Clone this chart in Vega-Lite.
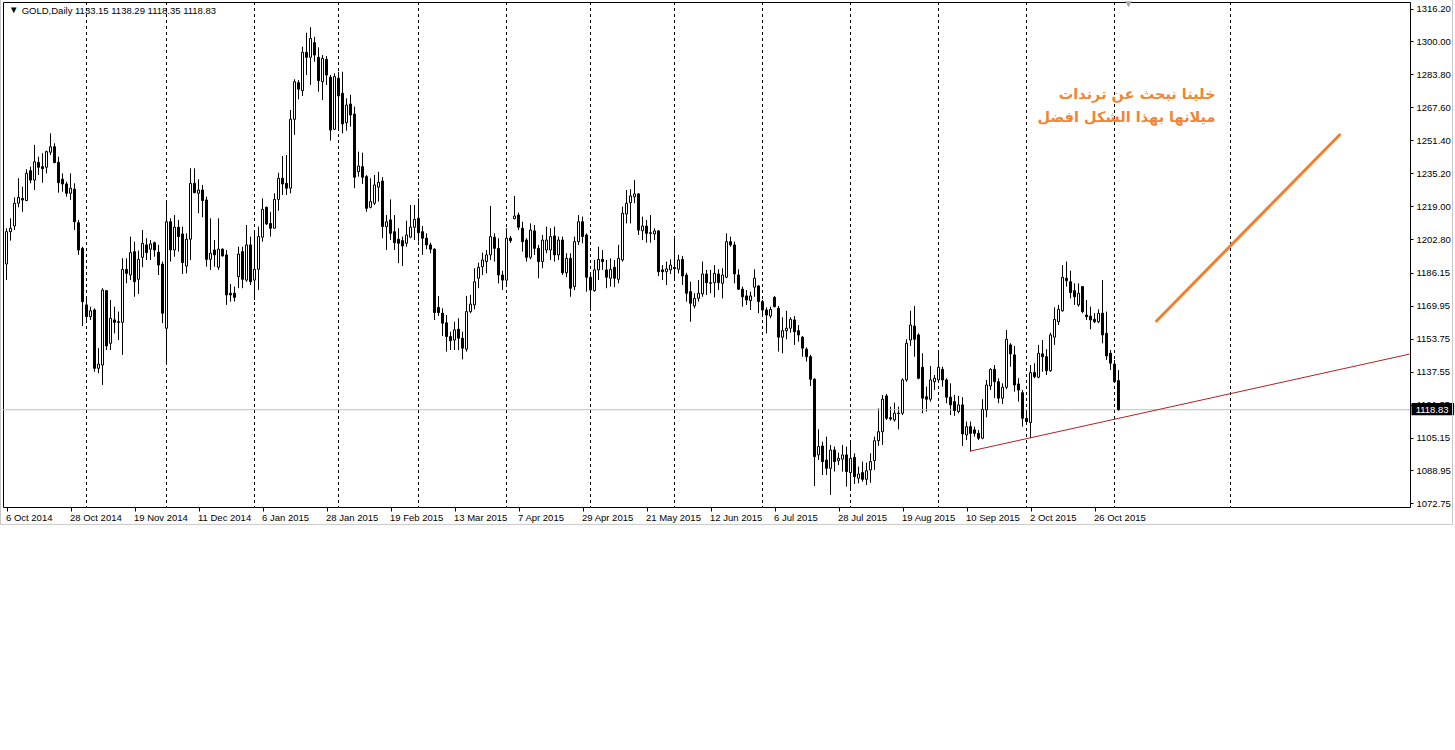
{
"$schema":"https://vega.github.io/schema/vega-lite/v6.json",
"width":1407,"height":505,
"autosize":{"type":"none"},
"padding":{"left":3,"top":2,"right":45,"bottom":243},
"background":"white",
"config":{"view":{"stroke":"black","strokeWidth":1},"scale":{"continuousPadding":0},
 "axis":{"labelFont":"Liberation Sans","labelFontSize":9.5,"labelColor":"black","tickColor":"black","tickWidth":1,"domain":false,"grid":false,"labelOverlap":false,"labelFlush":false,"zindex":0},
 "axisX":{"tickSize":4,"labelPadding":1},
 "axisY":{"tickSize":3,"labelPadding":3}},
"datasets":{
"bars":[
{"i":0,"o":1190.5,"h":1208.1,"l":1182.6,"c":1206.4},
{"i":1,"o":1206.4,"h":1213.0,"l":1202.0,"c":1208.1},
{"i":2,"o":1209.2,"h":1223.3,"l":1207.2,"c":1220.4},
{"i":3,"o":1220.4,"h":1232.7,"l":1218.4,"c":1223.3},
{"i":4,"o":1222.8,"h":1228.5,"l":1216.2,"c":1222.0},
{"i":5,"o":1221.7,"h":1237.1,"l":1221.7,"c":1235.1},
{"i":6,"o":1236.4,"h":1238.4,"l":1230.2,"c":1231.8},
{"i":7,"o":1231.8,"h":1249.1,"l":1226.9,"c":1240.8},
{"i":8,"o":1240.5,"h":1243.3,"l":1234.3,"c":1238.1},
{"i":9,"o":1238.4,"h":1245.0,"l":1230.5,"c":1237.4},
{"i":10,"o":1238.1,"h":1246.3,"l":1235.1,"c":1245.8},
{"i":11,"o":1245.5,"h":1254.8,"l":1244.1,"c":1248.2},
{"i":12,"o":1248.2,"h":1249.9,"l":1240.1,"c":1240.4},
{"i":13,"o":1240.5,"h":1243.3,"l":1225.6,"c":1230.5},
{"i":14,"o":1232.2,"h":1235.1,"l":1226.1,"c":1229.9},
{"i":15,"o":1229.9,"h":1231.0,"l":1223.6,"c":1225.3},
{"i":16,"o":1225.3,"h":1235.1,"l":1222.0,"c":1227.8},
{"i":17,"o":1227.3,"h":1230.2,"l":1207.2,"c":1211.3},
{"i":18,"o":1210.8,"h":1212.2,"l":1195.0,"c":1197.4},
{"i":19,"o":1198.2,"h":1199.0,"l":1160.0,"c":1172.0},
{"i":20,"o":1170.4,"h":1174.4,"l":1163.0,"c":1164.6},
{"i":21,"o":1164.6,"h":1169.5,"l":1163.0,"c":1167.5},
{"i":22,"o":1167.9,"h":1168.7,"l":1137.5,"c":1139.2},
{"i":23,"o":1139.2,"h":1149.1,"l":1136.8,"c":1141.3},
{"i":24,"o":1140.8,"h":1178.6,"l":1131.0,"c":1177.7},
{"i":25,"o":1177.4,"h":1177.7,"l":1148.2,"c":1150.2},
{"i":26,"o":1151.5,"h":1172.8,"l":1148.2,"c":1163.8},
{"i":27,"o":1163.0,"h":1169.5,"l":1156.4,"c":1161.8},
{"i":28,"o":1162.1,"h":1167.1,"l":1153.1,"c":1161.8},
{"i":29,"o":1161.8,"h":1193.3,"l":1145.8,"c":1187.9},
{"i":30,"o":1187.9,"h":1193.3,"l":1181.0,"c":1185.9},
{"i":31,"o":1185.1,"h":1204.0,"l":1182.6,"c":1196.1},
{"i":32,"o":1196.6,"h":1201.5,"l":1174.4,"c":1181.8},
{"i":33,"o":1183.0,"h":1197.1,"l":1175.8,"c":1192.8},
{"i":34,"o":1193.8,"h":1207.2,"l":1188.9,"c":1200.7},
{"i":35,"o":1199.9,"h":1203.2,"l":1192.5,"c":1196.1},
{"i":36,"o":1197.8,"h":1202.3,"l":1192.5,"c":1200.4},
{"i":37,"o":1201.0,"h":1201.5,"l":1194.1,"c":1197.4},
{"i":38,"o":1196.3,"h":1199.9,"l":1185.1,"c":1190.0},
{"i":39,"o":1190.5,"h":1191.7,"l":1161.4,"c":1166.3},
{"i":40,"o":1158.9,"h":1222.0,"l":1141.7,"c":1211.3},
{"i":41,"o":1211.3,"h":1213.0,"l":1191.7,"c":1197.4},
{"i":42,"o":1197.4,"h":1214.6,"l":1194.1,"c":1208.6},
{"i":43,"o":1208.6,"h":1212.2,"l":1196.6,"c":1204.0},
{"i":44,"o":1205.3,"h":1208.9,"l":1185.6,"c":1191.2},
{"i":45,"o":1189.5,"h":1205.6,"l":1185.9,"c":1202.7},
{"i":46,"o":1202.7,"h":1237.6,"l":1192.5,"c":1230.2},
{"i":47,"o":1230.2,"h":1237.6,"l":1225.3,"c":1225.6},
{"i":48,"o":1225.3,"h":1232.2,"l":1215.5,"c":1226.9},
{"i":49,"o":1226.9,"h":1229.4,"l":1213.5,"c":1221.7},
{"i":50,"o":1222.0,"h":1223.6,"l":1189.2,"c":1192.8},
{"i":51,"o":1192.8,"h":1213.0,"l":1187.6,"c":1195.8},
{"i":52,"o":1197.4,"h":1202.3,"l":1189.2,"c":1195.0},
{"i":53,"o":1188.9,"h":1213.0,"l":1187.6,"c":1197.8},
{"i":54,"o":1197.8,"h":1198.2,"l":1194.1,"c":1194.5},
{"i":55,"o":1195.0,"h":1197.4,"l":1170.4,"c":1175.3},
{"i":56,"o":1176.1,"h":1180.7,"l":1172.0,"c":1175.3},
{"i":57,"o":1176.1,"h":1179.4,"l":1172.0,"c":1174.1},
{"i":58,"o":1184.3,"h":1199.0,"l":1178.6,"c":1195.4},
{"i":59,"o":1196.6,"h":1199.0,"l":1178.6,"c":1183.0},
{"i":60,"o":1182.6,"h":1209.7,"l":1181.8,"c":1199.9},
{"i":61,"o":1199.9,"h":1204.0,"l":1180.2,"c":1181.8},
{"i":62,"o":1182.6,"h":1207.2,"l":1172.8,"c":1187.9},
{"i":63,"o":1187.9,"h":1208.9,"l":1177.7,"c":1204.0},
{"i":64,"o":1203.7,"h":1222.8,"l":1201.5,"c":1217.4},
{"i":65,"o":1218.4,"h":1218.7,"l":1209.7,"c":1210.2},
{"i":66,"o":1210.5,"h":1216.2,"l":1204.0,"c":1208.1},
{"i":67,"o":1208.1,"h":1225.3,"l":1208.1,"c":1222.3},
{"i":68,"o":1222.3,"h":1235.4,"l":1216.7,"c":1232.7},
{"i":69,"o":1232.7,"h":1243.6,"l":1224.5,"c":1229.9},
{"i":70,"o":1230.2,"h":1244.1,"l":1224.5,"c":1227.8},
{"i":71,"o":1227.8,"h":1266.3,"l":1225.3,"c":1261.7},
{"i":72,"o":1261.7,"h":1281.4,"l":1254.0,"c":1280.2},
{"i":73,"o":1279.7,"h":1281.0,"l":1271.5,"c":1276.5},
{"i":74,"o":1275.8,"h":1297.4,"l":1273.2,"c":1294.7},
{"i":75,"o":1294.7,"h":1304.3,"l":1283.5,"c":1292.2},
{"i":76,"o":1292.2,"h":1307.0,"l":1278.6,"c":1301.5},
{"i":77,"o":1299.4,"h":1302.3,"l":1290.0,"c":1293.3},
{"i":78,"o":1292.2,"h":1297.1,"l":1275.3,"c":1280.7},
{"i":79,"o":1280.2,"h":1293.3,"l":1271.2,"c":1291.7},
{"i":80,"o":1291.2,"h":1292.8,"l":1278.6,"c":1283.5},
{"i":81,"o":1282.4,"h":1283.5,"l":1251.2,"c":1256.4},
{"i":82,"o":1256.8,"h":1284.3,"l":1256.4,"c":1282.7},
{"i":83,"o":1281.9,"h":1285.1,"l":1256.4,"c":1273.2},
{"i":84,"o":1274.5,"h":1285.1,"l":1254.8,"c":1259.4},
{"i":85,"o":1260.0,"h":1272.0,"l":1256.1,"c":1268.7},
{"i":86,"o":1269.2,"h":1273.7,"l":1258.1,"c":1263.8},
{"i":87,"o":1264.3,"h":1267.9,"l":1227.8,"c":1233.2},
{"i":88,"o":1235.9,"h":1245.8,"l":1233.5,"c":1238.7},
{"i":89,"o":1238.4,"h":1245.3,"l":1229.9,"c":1233.2},
{"i":90,"o":1233.5,"h":1234.3,"l":1216.2,"c":1217.9},
{"i":91,"o":1218.4,"h":1232.7,"l":1217.9,"c":1221.2},
{"i":92,"o":1220.4,"h":1234.3,"l":1219.5,"c":1229.4},
{"i":93,"o":1228.3,"h":1235.9,"l":1221.2,"c":1230.7},
{"i":94,"o":1231.3,"h":1233.2,"l":1203.2,"c":1208.9},
{"i":95,"o":1208.9,"h":1214.6,"l":1197.4,"c":1211.3},
{"i":96,"o":1212.2,"h":1222.3,"l":1202.3,"c":1205.6},
{"i":97,"o":1206.4,"h":1214.6,"l":1197.4,"c":1201.0},
{"i":98,"o":1202.7,"h":1208.1,"l":1190.9,"c":1200.7},
{"i":99,"o":1202.0,"h":1204.0,"l":1189.5,"c":1199.4},
{"i":100,"o":1200.7,"h":1211.8,"l":1199.0,"c":1204.8},
{"i":101,"o":1203.7,"h":1219.5,"l":1203.2,"c":1208.6},
{"i":102,"o":1208.6,"h":1219.5,"l":1202.3,"c":1212.5},
{"i":103,"o":1213.0,"h":1222.8,"l":1201.5,"c":1205.9},
{"i":104,"o":1206.4,"h":1209.2,"l":1195.0,"c":1203.2},
{"i":105,"o":1203.2,"h":1205.6,"l":1197.8,"c":1199.9},
{"i":106,"o":1199.9,"h":1201.0,"l":1195.8,"c":1197.8},
{"i":107,"o":1197.8,"h":1198.2,"l":1163.0,"c":1166.6},
{"i":108,"o":1169.2,"h":1174.8,"l":1164.9,"c":1166.6},
{"i":109,"o":1166.3,"h":1168.7,"l":1155.1,"c":1161.4},
{"i":110,"o":1161.6,"h":1165.4,"l":1147.4,"c":1154.8},
{"i":111,"o":1154.8,"h":1157.2,"l":1148.2,"c":1152.8},
{"i":112,"o":1153.1,"h":1162.1,"l":1148.2,"c":1158.1},
{"i":113,"o":1158.4,"h":1163.8,"l":1148.2,"c":1154.0},
{"i":114,"o":1154.0,"h":1157.2,"l":1143.6,"c":1149.1},
{"i":115,"o":1148.6,"h":1174.8,"l":1147.4,"c":1167.1},
{"i":116,"o":1167.1,"h":1175.3,"l":1166.3,"c":1170.8},
{"i":117,"o":1170.4,"h":1188.4,"l":1168.2,"c":1181.8},
{"i":118,"o":1183.5,"h":1191.2,"l":1178.6,"c":1188.9},
{"i":119,"o":1189.2,"h":1196.1,"l":1185.1,"c":1192.5},
{"i":120,"o":1191.7,"h":1197.4,"l":1185.9,"c":1195.0},
{"i":121,"o":1195.0,"h":1219.1,"l":1192.5,"c":1204.0},
{"i":122,"o":1203.7,"h":1205.6,"l":1191.7,"c":1198.2},
{"i":123,"o":1198.2,"h":1203.2,"l":1181.0,"c":1185.1},
{"i":124,"o":1185.1,"h":1187.2,"l":1177.7,"c":1182.6},
{"i":125,"o":1182.6,"h":1208.1,"l":1179.4,"c":1203.2},
{"i":126,"o":1203.2,"h":1204.3,"l":1200.9,"c":1202.0},
{"i":127,"o":1212.8,"h":1224.0,"l":1212.5,"c":1214.1},
{"i":128,"o":1214.6,"h":1215.8,"l":1207.2,"c":1208.6},
{"i":129,"o":1208.1,"h":1211.3,"l":1196.6,"c":1201.5},
{"i":130,"o":1202.3,"h":1203.2,"l":1191.7,"c":1193.8},
{"i":131,"o":1193.8,"h":1210.5,"l":1192.8,"c":1207.2},
{"i":132,"o":1206.8,"h":1209.7,"l":1195.0,"c":1198.2},
{"i":133,"o":1198.2,"h":1199.9,"l":1183.5,"c":1191.7},
{"i":134,"o":1191.7,"h":1204.8,"l":1188.4,"c":1202.3},
{"i":135,"o":1197.4,"h":1208.9,"l":1195.8,"c":1202.3},
{"i":136,"o":1197.4,"h":1208.1,"l":1192.5,"c":1204.0},
{"i":137,"o":1204.3,"h":1208.9,"l":1191.7,"c":1195.0},
{"i":138,"o":1195.0,"h":1204.0,"l":1192.5,"c":1202.3},
{"i":139,"o":1202.3,"h":1204.0,"l":1185.1,"c":1186.2},
{"i":140,"o":1186.2,"h":1195.8,"l":1184.0,"c":1193.3},
{"i":141,"o":1193.3,"h":1195.8,"l":1174.4,"c":1178.6},
{"i":142,"o":1179.4,"h":1204.0,"l":1177.7,"c":1201.5},
{"i":143,"o":1201.5,"h":1214.6,"l":1199.9,"c":1211.3},
{"i":144,"o":1211.3,"h":1213.8,"l":1200.7,"c":1204.0},
{"i":145,"o":1204.8,"h":1205.6,"l":1176.9,"c":1184.0},
{"i":146,"o":1184.0,"h":1185.1,"l":1167.9,"c":1177.7},
{"i":147,"o":1177.4,"h":1192.5,"l":1176.9,"c":1187.6},
{"i":148,"o":1187.6,"h":1199.0,"l":1182.6,"c":1192.8},
{"i":149,"o":1192.8,"h":1197.4,"l":1187.6,"c":1191.7},
{"i":150,"o":1187.6,"h":1192.5,"l":1178.6,"c":1184.0},
{"i":151,"o":1183.5,"h":1193.3,"l":1179.4,"c":1187.9},
{"i":152,"o":1188.9,"h":1192.5,"l":1179.1,"c":1183.5},
{"i":153,"o":1183.0,"h":1199.9,"l":1181.0,"c":1193.3},
{"i":154,"o":1192.5,"h":1218.7,"l":1191.7,"c":1215.5},
{"i":155,"o":1215.1,"h":1226.9,"l":1210.5,"c":1220.4},
{"i":156,"o":1220.7,"h":1227.3,"l":1210.5,"c":1224.0},
{"i":157,"o":1223.6,"h":1231.8,"l":1220.4,"c":1225.0},
{"i":158,"o":1225.0,"h":1225.3,"l":1204.8,"c":1207.2},
{"i":159,"o":1206.9,"h":1213.8,"l":1202.3,"c":1209.2},
{"i":160,"o":1209.2,"h":1212.2,"l":1201.0,"c":1205.6},
{"i":161,"o":1205.9,"h":1214.6,"l":1201.0,"c":1205.6},
{"i":162,"o":1205.3,"h":1208.1,"l":1202.3,"c":1206.8},
{"i":163,"o":1206.8,"h":1207.2,"l":1184.6,"c":1186.7},
{"i":164,"o":1187.6,"h":1190.0,"l":1182.6,"c":1186.7},
{"i":165,"o":1186.7,"h":1191.7,"l":1180.2,"c":1188.1},
{"i":166,"o":1187.6,"h":1192.8,"l":1185.6,"c":1190.0},
{"i":167,"o":1188.9,"h":1204.3,"l":1182.6,"c":1188.2},
{"i":168,"o":1187.9,"h":1195.0,"l":1185.9,"c":1192.5},
{"i":169,"o":1192.8,"h":1194.5,"l":1180.2,"c":1184.6},
{"i":170,"o":1185.1,"h":1186.2,"l":1172.0,"c":1176.1},
{"i":171,"o":1176.9,"h":1181.8,"l":1162.1,"c":1171.2},
{"i":172,"o":1169.9,"h":1176.1,"l":1168.7,"c":1173.6},
{"i":173,"o":1173.6,"h":1182.6,"l":1172.0,"c":1176.1},
{"i":174,"o":1175.8,"h":1191.7,"l":1174.4,"c":1185.6},
{"i":175,"o":1185.6,"h":1187.6,"l":1175.3,"c":1181.3},
{"i":176,"o":1181.3,"h":1187.6,"l":1176.1,"c":1181.0},
{"i":177,"o":1181.3,"h":1190.0,"l":1174.1,"c":1185.9},
{"i":178,"o":1185.6,"h":1187.9,"l":1177.7,"c":1181.3},
{"i":179,"o":1181.0,"h":1188.4,"l":1173.6,"c":1185.1},
{"i":180,"o":1184.0,"h":1205.6,"l":1183.5,"c":1201.5},
{"i":181,"o":1201.5,"h":1204.0,"l":1199.0,"c":1199.9},
{"i":182,"o":1199.9,"h":1201.5,"l":1181.0,"c":1185.6},
{"i":183,"o":1185.1,"h":1187.9,"l":1177.7,"c":1178.1},
{"i":184,"o":1178.1,"h":1179.4,"l":1169.5,"c":1174.4},
{"i":185,"o":1174.8,"h":1177.7,"l":1170.4,"c":1172.8},
{"i":186,"o":1172.5,"h":1176.9,"l":1167.9,"c":1174.8},
{"i":187,"o":1179.1,"h":1187.9,"l":1174.4,"c":1183.5},
{"i":188,"o":1179.7,"h":1180.2,"l":1166.3,"c":1172.0},
{"i":189,"o":1172.0,"h":1172.8,"l":1165.4,"c":1167.9},
{"i":190,"o":1167.9,"h":1169.2,"l":1156.4,"c":1165.4},
{"i":191,"o":1164.9,"h":1169.5,"l":1163.8,"c":1168.2},
{"i":192,"o":1174.1,"h":1174.8,"l":1169.2,"c":1169.5},
{"i":193,"o":1168.7,"h":1169.9,"l":1147.4,"c":1154.5},
{"i":194,"o":1154.5,"h":1164.3,"l":1146.6,"c":1157.7},
{"i":195,"o":1157.7,"h":1167.5,"l":1153.5,"c":1158.9},
{"i":196,"o":1158.9,"h":1164.3,"l":1156.7,"c":1163.3},
{"i":197,"o":1163.0,"h":1164.9,"l":1150.7,"c":1157.2},
{"i":198,"o":1157.7,"h":1160.5,"l":1152.3,"c":1155.6},
{"i":199,"o":1154.5,"h":1155.1,"l":1144.9,"c":1149.1},
{"i":200,"o":1148.6,"h":1149.5,"l":1142.5,"c":1144.9},
{"i":201,"o":1144.9,"h":1145.8,"l":1130.5,"c":1133.8},
{"i":202,"o":1133.8,"h":1134.3,"l":1081.3,"c":1095.7},
{"i":203,"o":1096.6,"h":1109.2,"l":1094.1,"c":1100.7},
{"i":204,"o":1101.0,"h":1103.1,"l":1086.7,"c":1093.3},
{"i":205,"o":1094.1,"h":1105.6,"l":1086.7,"c":1090.0},
{"i":206,"o":1090.0,"h":1101.5,"l":1076.9,"c":1099.0},
{"i":207,"o":1099.0,"h":1100.7,"l":1088.4,"c":1093.3},
{"i":208,"o":1093.8,"h":1097.7,"l":1091.6,"c":1094.9},
{"i":209,"o":1094.5,"h":1101.5,"l":1088.4,"c":1096.6},
{"i":210,"o":1096.6,"h":1100.7,"l":1081.0,"c":1088.4},
{"i":211,"o":1087.9,"h":1102.6,"l":1079.4,"c":1094.9},
{"i":212,"o":1095.4,"h":1097.4,"l":1082.3,"c":1085.9},
{"i":213,"o":1085.1,"h":1090.8,"l":1082.6,"c":1087.2},
{"i":214,"o":1087.9,"h":1093.3,"l":1083.4,"c":1084.6},
{"i":215,"o":1084.6,"h":1092.8,"l":1081.8,"c":1088.8},
{"i":216,"o":1089.2,"h":1097.4,"l":1082.9,"c":1093.3},
{"i":217,"o":1093.8,"h":1105.6,"l":1089.2,"c":1103.6},
{"i":218,"o":1103.6,"h":1119.5,"l":1101.0,"c":1108.0},
{"i":219,"o":1108.0,"h":1126.1,"l":1101.5,"c":1124.0},
{"i":220,"o":1125.6,"h":1126.6,"l":1113.8,"c":1114.6},
{"i":221,"o":1114.9,"h":1120.3,"l":1113.4,"c":1114.3},
{"i":222,"o":1113.8,"h":1122.3,"l":1113.0,"c":1117.1},
{"i":223,"o":1117.1,"h":1120.3,"l":1109.2,"c":1116.9},
{"i":224,"o":1117.1,"h":1134.3,"l":1116.2,"c":1133.5},
{"i":225,"o":1133.5,"h":1153.5,"l":1132.6,"c":1151.5},
{"i":226,"o":1153.1,"h":1167.5,"l":1150.2,"c":1160.5},
{"i":227,"o":1160.0,"h":1169.9,"l":1144.9,"c":1153.5},
{"i":228,"o":1155.6,"h":1156.4,"l":1133.8,"c":1134.3},
{"i":229,"o":1139.7,"h":1146.6,"l":1117.1,"c":1124.5},
{"i":230,"o":1125.2,"h":1130.2,"l":1117.9,"c":1124.0},
{"i":231,"o":1124.0,"h":1140.3,"l":1122.8,"c":1133.5},
{"i":232,"o":1132.6,"h":1135.9,"l":1128.5,"c":1134.3},
{"i":233,"o":1133.5,"h":1146.9,"l":1133.1,"c":1139.7},
{"i":234,"o":1138.7,"h":1140.0,"l":1130.2,"c":1133.5},
{"i":235,"o":1133.5,"h":1134.3,"l":1122.0,"c":1125.0},
{"i":236,"o":1125.0,"h":1131.8,"l":1116.2,"c":1121.2},
{"i":237,"o":1122.8,"h":1126.1,"l":1115.8,"c":1118.4},
{"i":238,"o":1117.9,"h":1125.6,"l":1117.1,"c":1121.2},
{"i":239,"o":1121.2,"h":1125.0,"l":1101.0,"c":1106.9},
{"i":240,"o":1106.4,"h":1113.0,"l":1103.9,"c":1110.5},
{"i":241,"o":1110.5,"h":1113.0,"l":1098.2,"c":1107.2},
{"i":242,"o":1108.9,"h":1110.5,"l":1105.6,"c":1107.2},
{"i":243,"o":1107.2,"h":1108.9,"l":1103.9,"c":1104.8},
{"i":244,"o":1104.8,"h":1124.0,"l":1104.3,"c":1119.0},
{"i":245,"o":1118.7,"h":1133.5,"l":1115.1,"c":1131.0},
{"i":246,"o":1130.5,"h":1139.2,"l":1128.5,"c":1138.7},
{"i":247,"o":1138.7,"h":1140.8,"l":1124.5,"c":1132.6},
{"i":248,"o":1132.6,"h":1134.3,"l":1122.0,"c":1124.5},
{"i":249,"o":1124.5,"h":1131.8,"l":1121.7,"c":1129.9},
{"i":250,"o":1129.9,"h":1158.1,"l":1128.9,"c":1153.5},
{"i":251,"o":1150.7,"h":1151.5,"l":1140.0,"c":1146.3},
{"i":252,"o":1145.8,"h":1150.2,"l":1127.7,"c":1131.0},
{"i":253,"o":1131.5,"h":1134.3,"l":1122.8,"c":1128.5},
{"i":254,"o":1127.2,"h":1128.5,"l":1110.5,"c":1114.6},
{"i":255,"o":1114.6,"h":1118.7,"l":1111.3,"c":1113.0},
{"i":256,"o":1112.5,"h":1140.8,"l":1104.8,"c":1137.1},
{"i":257,"o":1137.1,"h":1141.7,"l":1134.3,"c":1135.1},
{"i":258,"o":1134.8,"h":1150.7,"l":1134.3,"c":1146.6},
{"i":259,"o":1146.3,"h":1153.1,"l":1137.5,"c":1144.9},
{"i":260,"o":1144.9,"h":1148.6,"l":1135.9,"c":1138.0},
{"i":261,"o":1138.0,"h":1156.7,"l":1137.5,"c":1155.6},
{"i":262,"o":1154.5,"h":1169.2,"l":1150.7,"c":1163.3},
{"i":263,"o":1162.1,"h":1170.4,"l":1160.5,"c":1168.2},
{"i":264,"o":1167.5,"h":1190.0,"l":1167.1,"c":1184.0},
{"i":265,"o":1183.5,"h":1191.7,"l":1179.4,"c":1182.3},
{"i":266,"o":1181.8,"h":1187.2,"l":1173.6,"c":1176.4},
{"i":267,"o":1177.4,"h":1181.0,"l":1170.4,"c":1174.4},
{"i":268,"o":1170.4,"h":1181.0,"l":1169.5,"c":1176.1},
{"i":269,"o":1179.4,"h":1179.7,"l":1166.3,"c":1167.1},
{"i":270,"o":1165.4,"h":1172.8,"l":1163.0,"c":1164.6},
{"i":271,"o":1164.9,"h":1169.5,"l":1158.4,"c":1163.0},
{"i":272,"o":1163.3,"h":1166.3,"l":1161.4,"c":1162.1},
{"i":273,"o":1162.1,"h":1168.2,"l":1161.4,"c":1166.3},
{"i":274,"o":1166.3,"h":1182.6,"l":1151.5,"c":1155.6},
{"i":275,"o":1156.4,"h":1167.1,"l":1143.3,"c":1145.3},
{"i":276,"o":1146.6,"h":1148.2,"l":1138.4,"c":1141.7},
{"i":277,"o":1141.3,"h":1143.3,"l":1132.1,"c":1132.6},
{"i":278,"o":1133.15,"h":1138.29,"l":1118.35,"c":1118.83}
],
"months":[{"i":20},{"i":40},{"i":62},{"i":83},{"i":103},{"i":125},{"i":146},{"i":167},{"i":189},{"i":211},{"i":233},{"i":255},{"i":277},{"i":306}],
"last":[{"p":1118.83,"label":"1118.83","i":356.4,"i0":351.25,"i1":361.9,"p0":1122.1,"p1":1116.1}],
"trend":[{"i":241,"p":1098.5},{"i":350.8,"p":1146.2}],
"arrow":[{"i":287.5,"p":1162.5},{"i":333.25,"p":1254.0}],
"note":[{"i":302.25,"p":1273.6,"t":"خلينا نبحث عن ترندات"},{"i":302.25,"p":1262.3,"t":"ميلانها بهذا الشكل افضل"}],
"header":[{"i":0.6,"p":1315.4,"t":"▼"},{"i":3.8,"p":1315.2,"t":"GOLD,Daily  1133.15 1138.29 1118.35 1118.83"}],
"shift":[{"i":280.5,"p":1318.3}],
"frame":[{"x1":-1.75,"x2":361.5,"y1":1062.4,"y2":1062.4},{"x1":361.5,"x2":361.5,"y1":1062.4,"y2":1321.5},{"x1":-1.5,"x2":-1.5,"y1":1062.4,"y2":1321.5}]
},
"layer":[
{"data":{"name":"bars"},"mark":{"type":"rule","color":"black","strokeWidth":1},
 "encoding":{"x":{"field":"i","type":"quantitative","title":null,"scale":{"domain":[-0.875,350.875],"nice":false,"zero":false,"padding":0},
   "axis":{"orient":"bottom","title":null,"labelOverlap":false,"tickCount":60,"values":[0,16,32,48,64,80,96,112,128,144,160,176,192,208,224,240,256,272],
   "labelExpr":"['6 Oct 2014','28 Oct 2014','19 Nov 2014','11 Dec 2014','6 Jan 2015','28 Jan 2015','19 Feb 2015','13 Mar 2015','7 Apr 2015','29 Apr 2015','21 May 2015','12 Jun 2015','6 Jul 2015','28 Jul 2015','19 Aug 2015','10 Sep 2015','2 Oct 2015','26 Oct 2015'][round(datum.value/16)]",
   "labelAlign":"left","labelBaseline":"top","labelOffset":-1}},
   "y":{"field":"l","type":"quantitative","title":null,"scale":{"domain":[1070.97,1319.4],"nice":false,"zero":false,"padding":0},
   "axis":{"orient":"right","title":null,"labelOverlap":false,"tickCount":40,"values":[1316.2,1300,1283.8,1267.6,1251.4,1235.2,1219,1202.8,1186.15,1169.95,1153.75,1137.55,1121.35,1105.15,1088.95,1072.75],"format":".2f"}},
   "y2":{"field":"h"}}},
{"data":{"name":"months"},"mark":{"type":"rule","color":"black","strokeWidth":1,"strokeDash":[3,3]},
 "encoding":{"x":{"field":"i","type":"quantitative","title":null}}},
{"data":{"name":"last"},"mark":{"type":"rule","color":"#c0c0c0","strokeWidth":1},
 "encoding":{"y":{"field":"p","type":"quantitative","title":null}}},
{"data":{"name":"bars"},"mark":{"type":"bar","size":2,"stroke":"black","strokeWidth":1},
 "encoding":{"x":{"field":"i","type":"quantitative","title":null},
   "y":{"field":"o","type":"quantitative","title":null},
   "y2":{"field":"c"},
   "fill":{"condition":{"test":"datum.c >= datum.o","value":"white"},"value":"black"}}},
{"data":{"name":"trend"},"mark":{"type":"line","color":"#b22222","strokeWidth":1},
 "encoding":{"x":{"field":"i","type":"quantitative","title":null},
   "y":{"field":"p","type":"quantitative","title":null}}},
{"data":{"name":"arrow"},"mark":{"type":"line","color":"#f08030","strokeWidth":3,"strokeCap":"round"},
 "encoding":{"x":{"field":"i","type":"quantitative","title":null},
   "y":{"field":"p","type":"quantitative","title":null}}},
{"data":{"name":"note"},"mark":{"type":"text","align":"right","baseline":"middle","font":"DejaVu Sans","fontSize":14.5,"fontWeight":"bold","color":"#f08535"},
 "encoding":{"x":{"field":"i","type":"quantitative","title":null},
   "y":{"field":"p","type":"quantitative","title":null},
   "text":{"field":"t"}}},
{"data":{"name":"header"},"mark":{"type":"text","align":"left","baseline":"middle","font":"Liberation Sans","fontSize":9.5,"color":"black"},
 "encoding":{"x":{"field":"i","type":"quantitative","title":null},
   "y":{"field":"p","type":"quantitative","title":null},
   "text":{"field":"t"}}},
{"data":{"name":"last"},"mark":{"type":"rect","color":"black"},
 "encoding":{"x":{"field":"i0","type":"quantitative","title":null},
   "x2":{"field":"i1"},
   "y":{"field":"p0","type":"quantitative","title":null},
   "y2":{"field":"p1"}}},
{"data":{"name":"last"},"mark":{"type":"text","align":"center","baseline":"middle","font":"Liberation Sans","fontSize":9.5,"color":"white"},
 "encoding":{"x":{"field":"i","type":"quantitative","title":null},
   "y":{"field":"p","type":"quantitative","title":null},
   "text":{"field":"label"}}},
{"data":{"name":"shift"},"mark":{"type":"point","shape":"triangle-down","filled":true,"size":45,"color":"#a8a8a8","opacity":1},
 "encoding":{"x":{"field":"i","type":"quantitative","title":null},
   "y":{"field":"p","type":"quantitative","title":null}}},
{"data":{"name":"frame"},"mark":{"type":"rule","color":"#c8c8c8","strokeWidth":1},
 "encoding":{"x":{"field":"x1","type":"quantitative","title":null},
   "x2":{"field":"x2"},
   "y":{"field":"y1","type":"quantitative","title":null},
   "y2":{"field":"y2"}}}
]
}
